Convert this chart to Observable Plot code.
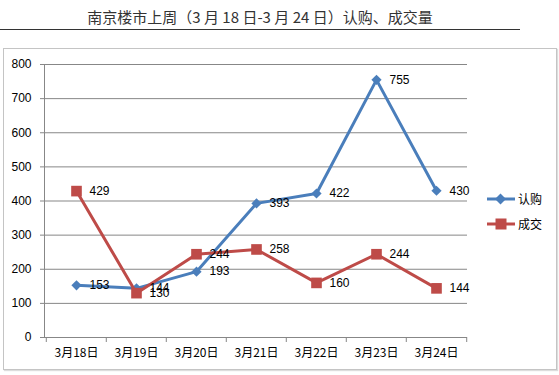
<!DOCTYPE html>
<html><head><meta charset="utf-8">
<script src="https://cdn.jsdelivr.net/npm/d3@7"></script>
<script src="https://cdn.jsdelivr.net/npm/@observablehq/plot@0.6"></script>
<style>
body{margin:0;background:#fff;width:559px;height:375px;position:relative;overflow:hidden;font-family:"Liberation Sans","Noto Sans CJK SC",sans-serif;}
#title{position:absolute;left:0;top:6px;width:520px;text-align:center;font-size:15px;font-family:"Noto Sans CJK SC",sans-serif;color:#333;line-height:22px;white-space:nowrap}
#rule{position:absolute;left:0;top:29px;width:520px;height:0;border-top:1px solid #333}
#box{position:absolute;left:3px;top:48px;width:552px;height:320px;border:1px solid #c4c4c4;box-shadow:1px 1px 1px #ddd}
#chart{position:absolute;left:0;top:0}
#legend{position:absolute;left:487px;top:186px;font-size:12px;font-family:"Noto Sans CJK SC",sans-serif;color:#000}
.item{display:flex;align-items:center;height:25px}
.item span{margin-left:3px}
</style></head>
<body>
<div id="title">南京楼市上周（3 月 18 日-3 月 24 日）认购、成交量</div>
<div id="rule"></div>
<div id="box"></div>
<div id="chart"></div>
<div id="legend"></div>
<script>
const categories = ["3月18日","3月19日","3月20日","3月21日","3月22日","3月23日","3月24日"];
const subscribe = [153,144,193,393,422,755,430]; // 认购
const deals = [429,130,244,258,160,244,144];     // 成交
const seriesNames = ["认购","成交"];
const yTicks = [0,100,200,300,400,500,600,700,800];

const blueColor = "#4A7EBB", redColor = "#BE4B48", gridColor = "#878787";
const W = 559, H = 375, mL = 44, mR = 92, mT = 64, mB = 38;
const step = (W - mL - mR) / categories.length;

const blue = categories.map((c,i)=>({date:c, series:seriesNames[0], value:subscribe[i]}));
const red = categories.map((c,i)=>({date:c, series:seriesNames[1], value:deals[i]}));

const chart = Plot.plot({
  width: W, height: H, marginLeft: mL, marginRight: mR, marginTop: mT, marginBottom: mB,
  style: {background: "transparent", fontFamily: '"Liberation Sans","Noto Sans CJK SC",sans-serif', fontSize: "12px", color: "#000"},
  x: {type: "point", domain: categories, padding: 0.5, label: null},
  y: {domain: [0, 800], label: null},
  marks: [
    Plot.ruleY(yTicks, {stroke: gridColor, strokeWidth: 1}),
    Plot.frame({anchor: "left", stroke: gridColor}),
    Plot.axisY({ticks: yTicks, tickSize: 4, tickPadding: 9, stroke: gridColor, fill: "#000", fontSize: 12}),
    Plot.axisX({tickSize: 5, tickFormat: () => "", dx: -step/2, stroke: gridColor}),
    Plot.axisX([categories[categories.length-1]], {tickSize: 5, tickFormat: () => "", dx: step/2, stroke: gridColor}),
    Plot.axisX({tickSize: 0, tickPadding: 11, fill: "#000", fontSize: 12, fontFamily: '"Noto Sans CJK SC",sans-serif'}),
    Plot.line(blue, {x: "date", y: "value", stroke: blueColor, strokeWidth: 3}),
    Plot.dot(blue, {x: "date", y: "value", symbol: "diamond2", r: 4.6, fill: blueColor, stroke: null}),
    Plot.line(red, {x: "date", y: "value", stroke: redColor, strokeWidth: 3}),
    Plot.dot(red, {x: "date", y: "value", symbol: "square", r: 6, fill: redColor, stroke: null}),
    Plot.text(blue, {x: "date", y: "value", text: d => String(d.value), textAnchor: "start", dx: 13, fill: "#000", fontSize: 12}),
    Plot.text(red, {x: "date", y: "value", text: d => String(d.value), textAnchor: "start", dx: 13, fill: "#000", fontSize: 12})
  ]
});
document.getElementById("chart").appendChild(chart);

const legendColors = [blueColor, redColor];
const legendShapes = [
  c => `<path d="M13.5,3.5L19,9L13.5,14.5L8,9Z" fill="${c}"/>`,
  c => `<rect x="8.5" y="3.5" width="11" height="11" fill="${c}"/>`
];
const lg = document.getElementById("legend");
seriesNames.forEach((n,i) => {
  const div = document.createElement("div");
  div.className = "item";
  div.innerHTML = `<svg width="28" height="18"><line x1="0" x2="28" y1="9" y2="9" stroke="${legendColors[i]}" stroke-width="3"/>${legendShapes[i](legendColors[i])}</svg><span>${n}</span>`;
  lg.appendChild(div);
});
</script>
</body></html>
